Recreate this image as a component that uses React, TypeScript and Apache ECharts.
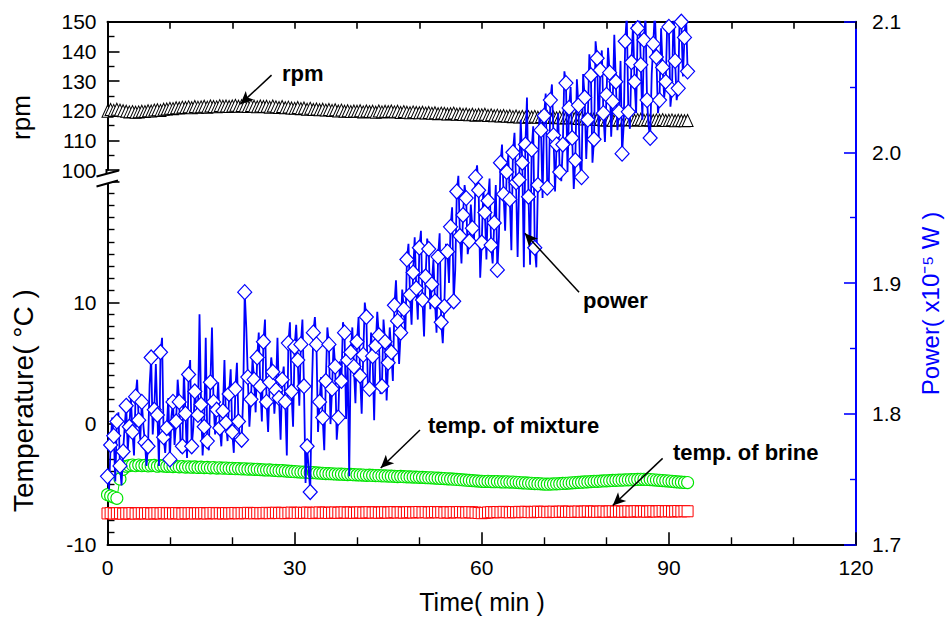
import React, { useEffect, useRef } from "react";
import * as echarts from "echarts";

// sampling step of all marker series (min)
const STEP = 0.5;

// stirrer speed (rpm), t = 0 … 93 min
const rpmValues = [
  119.8, 120.4, 120.1, 120.5, 120.2, 120.0, 119.8, 119.6, 119.7, 119.5,
  119.6, 119.8, 119.7, 120.0, 119.9, 120.2, 120.3, 120.1, 120.5, 120.6,
  120.8, 120.7, 121.0, 120.9, 121.2, 121.1, 121.3, 121.0, 121.4, 121.2,
  121.3, 121.5, 121.2, 121.6, 121.4, 121.3, 121.7, 121.5, 121.6, 121.4,
  121.6, 121.8, 121.5, 121.7, 121.6, 121.4, 121.7, 121.5, 121.3, 121.6,
  121.4, 121.5, 121.2, 121.6, 121.3, 121.1, 121.4, 121.0, 121.2, 120.9,
  120.8, 121.1, 120.7, 120.9, 120.5, 120.8, 120.4, 120.6, 120.3, 120.5,
  120.2, 120.4, 120.1, 120.3, 119.9, 120.2, 119.8, 120.0, 119.7, 119.9,
  119.8, 120.0, 119.6, 119.9, 119.7, 119.8, 119.5, 119.9, 119.6, 119.8,
  119.7, 119.9, 119.6, 119.8, 119.4, 119.7, 119.5, 119.3, 119.6, 119.4,
  119.3, 119.5, 119.2, 119.4, 119.1, 119.3, 119.0, 119.2, 119.1, 118.9,
  119.0, 119.2, 118.8, 119.0, 118.7, 118.9, 118.6, 118.8, 118.5, 118.7,
  118.6, 118.8, 118.4, 118.6, 118.3, 118.5, 118.2, 118.4, 118.1, 118.3,
  118.0, 118.2, 117.9, 118.1, 117.8, 118.0, 117.9, 118.1, 117.8, 118.0,
  117.9, 118.0, 117.7, 117.9, 117.6, 117.8, 117.5, 117.7, 117.6, 117.8,
  117.6, 117.4, 117.6, 117.2, 117.4, 117.1, 117.3, 117.0, 117.2, 116.9,
  116.9, 117.1, 116.8, 117.0, 116.9, 117.2, 116.9, 117.1, 117.0, 116.8,
  117.0, 117.1, 116.8, 117.0, 116.9, 116.7, 116.9, 116.8, 117.0, 116.7,
  116.8, 116.9, 116.6, 116.8, 116.7, 116.6, 116.7,
];

// temperature of mixture (°C)
const mixtureTemp = [
  -5.9, -6.0, -6.1, -6.2, -4.6, -3.8, -3.55, -3.5, -3.45, -3.5,
  -3.45, -3.5, -3.48, -3.52, -3.5, -3.48, -3.55, -3.5, -3.53, -3.56,
  -3.55, -3.58, -3.56, -3.6, -3.58, -3.62, -3.6, -3.63, -3.61, -3.65,
  -3.63, -3.66, -3.65, -3.68, -3.66, -3.7, -3.68, -3.71, -3.7, -3.73,
  -3.72, -3.75, -3.74, -3.77, -3.76, -3.79, -3.78, -3.81, -3.8, -3.83,
  -3.84, -3.86, -3.85, -3.88, -3.9, -3.92, -3.91, -3.94, -3.96, -3.98,
  -4.0, -4.01, -4.03, -4.04, -4.06, -4.08, -4.07, -4.1, -4.12, -4.13,
  -4.15, -4.16, -4.17, -4.19, -4.2, -4.21, -4.22, -4.24, -4.23, -4.25,
  -4.26, -4.27, -4.28, -4.3, -4.29, -4.31, -4.32, -4.33, -4.34, -4.35,
  -4.36, -4.37, -4.38, -4.4, -4.39, -4.41, -4.42, -4.43, -4.44, -4.45,
  -4.46, -4.47, -4.49, -4.5, -4.51, -4.53, -4.54, -4.56, -4.57, -4.59,
  -4.6, -4.62, -4.64, -4.66, -4.68, -4.7, -4.72, -4.74, -4.76, -4.78,
  -4.8, -4.81, -4.8, -4.82, -4.83, -4.82, -4.84, -4.85, -4.84, -4.86,
  -4.86, -4.88, -4.9, -4.92, -4.93, -4.95, -4.96, -4.98, -4.99, -5.0,
  -5.02, -5.03, -5.02, -5.01, -5.0, -4.99, -4.97, -4.96, -4.94, -4.92,
  -4.9, -4.88, -4.87, -4.85, -4.84, -4.82, -4.8, -4.79, -4.78, -4.76,
  -4.75, -4.74, -4.72, -4.71, -4.7, -4.69, -4.68, -4.67, -4.66, -4.65,
  -4.64, -4.63, -4.63, -4.64, -4.65, -4.67, -4.69, -4.71, -4.73, -4.75,
  -4.77, -4.8, -4.83, -4.85, -4.87, -4.89, -4.9,
];

// temperature of brine (°C)
const brineTemp = [
  -7.45, -7.42, -7.46, -7.44, -7.43, -7.47, -7.44, -7.45, -7.42, -7.46,
  -7.44, -7.43, -7.45, -7.42, -7.46, -7.44, -7.43, -7.45, -7.41, -7.44,
  -7.43, -7.45, -7.42, -7.44, -7.46, -7.43, -7.44, -7.42, -7.45, -7.43,
  -7.44, -7.42, -7.45, -7.43, -7.41, -7.44, -7.43, -7.45, -7.42, -7.44,
  -7.43, -7.41, -7.44, -7.42, -7.43, -7.4, -7.42, -7.44, -7.41, -7.43,
  -7.42, -7.4, -7.43, -7.41, -7.39, -7.42, -7.4, -7.43, -7.41, -7.38,
  -7.4, -7.42, -7.39, -7.41, -7.38, -7.4, -7.42, -7.39, -7.37, -7.4,
  -7.38, -7.41, -7.39, -7.37, -7.4, -7.38, -7.36, -7.39, -7.37, -7.4,
  -7.38, -7.36, -7.39, -7.37, -7.35, -7.38, -7.36, -7.39, -7.37, -7.35,
  -7.38, -7.36, -7.34, -7.37, -7.35, -7.38, -7.36, -7.34, -7.37, -7.35,
  -7.33, -7.36, -7.34, -7.37, -7.35, -7.33, -7.36, -7.34, -7.38, -7.35,
  -7.37, -7.34, -7.36, -7.33, -7.35, -7.37, -7.34, -7.36, -7.38, -7.41,
  -7.43, -7.4, -7.37, -7.34, -7.36, -7.33, -7.35, -7.32, -7.34, -7.36,
  -7.33, -7.35, -7.32, -7.34, -7.31, -7.33, -7.35, -7.32, -7.3, -7.33,
  -7.31, -7.34, -7.32, -7.3, -7.33, -7.31, -7.29, -7.32, -7.3, -7.33,
  -7.31, -7.29, -7.32, -7.3, -7.28, -7.31, -7.29, -7.32, -7.3, -7.28,
  -7.31, -7.29, -7.27, -7.3, -7.28, -7.31, -7.29, -7.27, -7.3, -7.28,
  -7.26, -7.29, -7.27, -7.3, -7.28, -7.26, -7.29, -7.27, -7.25, -7.28,
  -7.26, -7.29, -7.27, -7.25, -7.28, -7.26, -7.27,
];

// power (x10^-5 W) at the diamond markers, every 0.5 min
const powerValues = [
  1.752, 1.776, 1.783, 1.794, 1.760, 1.771, 1.806, 1.790, 1.786, 1.813,
  1.795, 1.809, 1.778, 1.775, 1.843, 1.803, 1.799, 1.847, 1.782, 1.789,
  1.765, 1.809, 1.794, 1.809, 1.775, 1.800, 1.830, 1.775, 1.817, 1.799,
  1.807, 1.790, 1.779, 1.824, 1.809, 1.803, 1.789, 1.802, 1.793, 1.815,
  1.786, 1.819, 1.794, 1.780, 1.893, 1.828, 1.811, 1.826, 1.843, 1.821,
  1.855, 1.809, 1.824, 1.832, 1.818, 1.812, 1.826, 1.809, 1.854, 1.817,
  1.851, 1.841, 1.853, 1.821, 1.775, 1.740, 1.862, 1.853, 1.809, 1.797,
  1.825, 1.853, 1.819, 1.836, 1.797, 1.825, 1.862, 1.841, 1.847, 1.836,
  1.855, 1.829, 1.845, 1.874, 1.819, 1.844, 1.852, 1.860, 1.821, 1.855,
  1.839, 1.847, 1.883, 1.871, 1.862, 1.880, 1.918, 1.891, 1.908, 1.896,
  1.927, 1.887, 1.905, 1.926, 1.899, 1.886, 1.920, 1.870, 1.882, 1.924,
  1.943, 1.886, 1.970, 1.936, 1.952, 1.965, 1.932, 1.942, 1.981, 1.971,
  1.931, 1.954, 1.963, 1.929, 1.946, 1.910, 1.992, 1.968, 1.985, 1.964,
  2.000, 1.977, 1.979, 1.992, 2.006, 1.966, 2.002, 1.927, 1.975, 2.017,
  2.028, 1.973, 2.040, 2.013, 2.006, 1.985, 2.006, 2.053, 2.034, 2.011,
  1.994, 2.036, 1.981, 2.042, 2.025, 2.059, 2.010, 2.072, 2.063, 2.030,
  2.044, 2.061, 2.039, 2.054, 2.031, 1.999, 2.085, 2.031, 2.069, 2.054,
  2.095, 2.067, 2.086, 2.040, 2.011, 2.083, 2.073, 2.040, 2.065, 2.054,
  2.096, 2.048, 2.070, 2.049, 2.100, 2.088, 2.062,
];

// power (x10^-5 W) of the unmarked readings between two diamonds (t + 0.25 min)
const powerBetween = [
  1.742, 1.797, 1.748, 1.801, 1.745, 1.790, 1.772, 1.812, 1.768, 1.826,
  1.780, 1.791, 1.760, 1.822, 1.784, 1.838, 1.760, 1.858, 1.770, 1.812,
  1.798, 1.776, 1.826, 1.770, 1.832, 1.766, 1.841, 1.789, 1.806, 1.876,
  1.768, 1.858, 1.772, 1.866, 1.784, 1.824, 1.775, 1.841, 1.779, 1.834,
  1.770, 1.839, 1.781, 1.812, 1.866, 1.790, 1.842, 1.801, 1.862, 1.794,
  1.872, 1.786, 1.843, 1.800, 1.858, 1.780, 1.836, 1.768, 1.870, 1.790,
  1.868, 1.806, 1.872, 1.747, 1.758, 1.815, 1.874, 1.786, 1.828, 1.772,
  1.866, 1.792, 1.854, 1.780, 1.840, 1.870, 1.796, 1.752, 1.866, 1.808,
  1.874, 1.800, 1.885, 1.820, 1.862, 1.795, 1.878, 1.815, 1.872, 1.810,
  1.866, 1.825, 1.902, 1.838, 1.895, 1.860, 1.930, 1.868, 1.935, 1.872,
  1.940, 1.859, 1.934, 1.880, 1.918, 1.862, 1.938, 1.854, 1.930, 1.900,
  1.958, 1.910, 1.982, 1.915, 1.975, 1.922, 1.960, 1.930, 1.990, 1.904,
  1.972, 1.918, 1.980, 1.915, 1.975, 1.935, 2.006, 1.940, 1.998, 1.925,
  2.015, 1.920, 2.025, 1.912, 2.042, 1.914, 2.020, 1.912, 2.030, 1.965,
  2.045, 1.975, 2.052, 1.970, 2.030, 1.978, 2.062, 1.985, 2.050, 1.972,
  2.056, 1.990, 2.060, 1.995, 2.075, 1.992, 2.085, 2.010, 2.078, 2.008,
  2.080, 2.012, 2.090, 2.017, 2.070, 2.020, 2.105, 2.018, 2.098, 2.030,
  2.110, 2.025, 2.104, 2.020, 2.060, 2.108, 2.030, 2.095, 2.042, 2.102,
  2.035, 2.110, 2.040, 2.112, 2.058, 2.106,
];

// annotation arrows, [tail, head] in data coordinates of the pointed series
const rpmArrow = [[26.3, 132.0], [21.3, 122.2]];
const powerArrow = [[75.6, 1.893], [66.9, 1.938]];
const mixtureArrow = [[50.1, -0.55], [43.8, -3.7]];
const brineArrow = [[89.0, -2.9], [81.0, -6.8]];

const time = rpmValues.map((_, i) => i * STEP);
const pairs = (vals: number[]) => vals.map((v, i) => [time[i], v]);
const powerLineData: number[][] = [];
powerValues.forEach((v, i) => {
  powerLineData.push([time[i], v]);
  if (i < powerBetween.length) powerLineData.push([time[i] + STEP / 2, powerBetween[i]]);
});

const BLACK = "#000000";
const BLUE = "#0000ff";
const GREEN = "#00e400";
const RED = "#ff0000";
const FONT = '"Liberation Sans", Arial, Helvetica, sans-serif';

const line = (color: string) => ({ show: true, onZero: false, lineStyle: { color, width: 2 } });
const tick = (color: string, length: number) => ({
  show: true,
  inside: true,
  length,
  lineStyle: { color, width: 1.6 },
});
const minor = (color: string, splitNumber: number, length: number) => ({
  show: true,
  splitNumber,
  length,
  lineStyle: { color, width: 1.4 },
});
const label = (margin: number, extra: object = {}) => ({
  show: true,
  color: BLACK,
  fontSize: 21,
  fontFamily: FONT,
  margin,
  ...extra,
});

const arrowLine = (pts: number[][]) => ({
  silent: true,
  symbol: ["none", "arrow"],
  symbolSize: [9, 13],
  label: { show: false },
  lineStyle: { color: BLACK, width: 1.5, type: "solid" },
  emphasis: { disabled: true },
  data: [[{ coord: pts[0] }, { coord: pts[1] }]],
});

const annText = (text: string, x: number, y: number) => ({
  type: "text",
  x,
  y,
  silent: true,
  style: {
    text,
    fill: BLACK,
    font: `bold 22px ${FONT}`,
    align: "left",
    verticalAlign: "middle",
    textAlign: "left",
    textVerticalAlign: "middle",
  },
});

const rotText = (text: string, x: number, y: number, align: string, color: string, size: number) => ({
  type: "text",
  x,
  y,
  rotation: Math.PI / 2,
  silent: true,
  style: {
    text,
    fill: color,
    font: `${size}px ${FONT}`,
    align,
    verticalAlign: "middle",
    textAlign: align,
    textVerticalAlign: "middle",
  },
});

const option = {
  animation: false,
  backgroundColor: "#ffffff",
  textStyle: { fontFamily: FONT },
  grid: [
    { left: 107.5, right: 93, top: 21.7, height: 148.3 },
    { left: 107.5, right: 93, top: 181.3, bottom: 76.7 },
    { left: 107.5, right: 93, top: 21.7, bottom: 76.7 },
  ],
  xAxis: [
    {
      gridIndex: 0,
      type: "value",
      min: 0,
      max: 120,
      interval: 10,
      position: "top",
      axisLine: line(BLACK),
      axisTick: tick(BLACK, 7),
      axisLabel: { show: false },
      splitLine: { show: false },
    },
    {
      gridIndex: 1,
      type: "value",
      min: 0,
      max: 120,
      interval: 30,
      position: "bottom",
      axisLine: line(BLACK),
      axisTick: tick(BLACK, 12),
      minorTick: minor(BLACK, 3, 7),
      axisLabel: label(13),
      splitLine: { show: false },
      minorSplitLine: { show: false },
    },
    { gridIndex: 2, type: "value", min: 0, max: 120, show: false },
  ],
  yAxis: [
    {
      gridIndex: 0,
      type: "value",
      min: 100,
      max: 150,
      interval: 10,
      axisLine: line(BLACK),
      axisTick: tick(BLACK, 12),
      minorTick: minor(BLACK, 2, 7),
      axisLabel: label(11),
      splitLine: { show: false },
      minorSplitLine: { show: false },
    },
    {
      gridIndex: 1,
      type: "value",
      min: -10,
      max: 20,
      interval: 10,
      axisLine: line(BLACK),
      axisTick: tick(BLACK, 12),
      minorTick: minor(BLACK, 10, 7),
      axisLabel: label(11, { formatter: (v: number) => (v >= 20 ? "" : String(v)) }),
      splitLine: { show: false },
      minorSplitLine: { show: false },
    },
    {
      gridIndex: 2,
      type: "value",
      position: "right",
      min: 1.7,
      max: 2.1,
      interval: 0.1,
      axisLine: line(BLUE),
      axisTick: tick(BLUE, 12),
      minorTick: minor(BLUE, 2, 6),
      axisLabel: label(16, { formatter: (v: number) => v.toFixed(1) }),
      splitLine: { show: false },
      minorSplitLine: { show: false },
    },
  ],
  series: [
    {
      name: "rpm",
      type: "line",
      xAxisIndex: 0,
      yAxisIndex: 0,
      data: pairs(rpmValues),
      symbol: "triangle",
      symbolSize: [11, 12],
      showSymbol: true,
      showAllSymbol: true,
      lineStyle: { color: BLACK, width: 1 },
      itemStyle: { color: "#ffffff", borderColor: BLACK, borderWidth: 1 },
      z: 2,
      markLine: arrowLine(rpmArrow),
    },
    {
      name: "temp. of brine",
      type: "line",
      xAxisIndex: 1,
      yAxisIndex: 1,
      data: pairs(brineTemp),
      symbol: "rect",
      symbolSize: 11,
      showSymbol: true,
      showAllSymbol: true,
      lineStyle: { color: RED, width: 1 },
      itemStyle: { color: "#ffffff", borderColor: RED, borderWidth: 1 },
      z: 2,
      markLine: arrowLine(brineArrow),
    },
    {
      name: "temp. of mixture",
      type: "line",
      xAxisIndex: 1,
      yAxisIndex: 1,
      data: pairs(mixtureTemp),
      symbol: "circle",
      symbolSize: 12,
      showSymbol: true,
      showAllSymbol: true,
      lineStyle: { color: GREEN, width: 1 },
      itemStyle: { color: "#ffffff", borderColor: GREEN, borderWidth: 1.1 },
      z: 2,
      markLine: arrowLine(mixtureArrow),
    },
    {
      name: "power line",
      type: "line",
      xAxisIndex: 2,
      yAxisIndex: 2,
      data: powerLineData,
      symbol: "none",
      showSymbol: false,
      lineStyle: { color: BLUE, width: 1.8 },
      z: 3,
      markLine: arrowLine(powerArrow),
    },
    {
      name: "power",
      type: "scatter",
      xAxisIndex: 2,
      yAxisIndex: 2,
      data: pairs(powerValues),
      symbol: "diamond",
      symbolSize: [14, 15],
      itemStyle: { color: "#ffffff", borderColor: BLUE, borderWidth: 1.2, opacity: 1 },
      z: 4,
    },
  ],
  graphic: [
    // axis break on the left axis
    { type: "rect", silent: true, shape: { x: 104, y: 171, width: 8, height: 12 }, style: { fill: "#fff" }, z: 50 },
    { type: "line", silent: true, shape: { x1: 106.5, y1: 169, x2: 106.5, y2: 174 }, style: { stroke: BLACK, lineWidth: 2 }, z: 51 },
    { type: "line", silent: true, shape: { x1: 96.5, y1: 176.5, x2: 119, y2: 170.5 }, style: { stroke: BLACK, lineWidth: 2 }, z: 52 },
    { type: "line", silent: true, shape: { x1: 96.5, y1: 186.5, x2: 118, y2: 180.5 }, style: { stroke: BLACK, lineWidth: 2 }, z: 52 },
    // axis titles
    rotText("rpm", 21, 117.5, "center", BLACK, 26),
    rotText("Temperature( °C )", 23, 512, "left", BLACK, 28),
    rotText("Power( x10⁻⁵ W )", 930.5, 303.5, "center", BLUE, 24),
    {
      type: "text",
      x: 482,
      y: 601.5,
      silent: true,
      style: {
        text: "Time( min )",
        fill: BLACK,
        font: `25px ${FONT}`,
        align: "center",
        verticalAlign: "middle",
        textAlign: "center",
        textVerticalAlign: "middle",
      },
    },
    // annotations
    annText("rpm", 282, 73),
    annText("power", 583, 300),
    annText("temp. of mixture", 428, 425),
    annText("temp. of brine", 673, 452),
  ],
};

export default function App() {
  const ref = useRef<HTMLDivElement>(null);
  useEffect(() => {
    if (!ref.current) return;
    const chart = echarts.init(ref.current, null, { renderer: "svg" });
    chart.setOption(option as any);
    return () => chart.dispose();
  }, []);
  return (
    <div
      ref={ref}
      style={{ position: "fixed", left: 0, top: 0, width: 949, height: 621, background: "#ffffff" }}
    />
  );
}
